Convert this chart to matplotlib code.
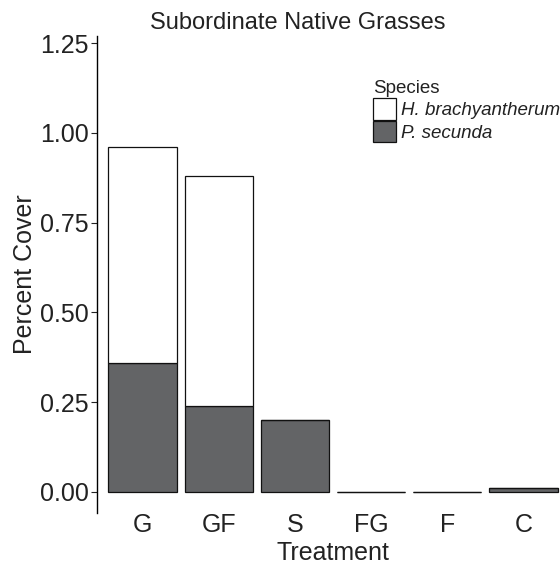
import matplotlib.pyplot as plt
from matplotlib.patches import Patch

treatments = ["G", "GF", "S", "FG", "F", "C"]
p_secunda = [0.36, 0.24, 0.20, 0.0, 0.0, 0.012]
h_brachy = [0.60, 0.64, 0.0, 0.0, 0.0, 0.0]
yticks = [0.00, 0.25, 0.50, 0.75, 1.00, 1.25]

plt.rcParams["font.family"] = ["Liberation Sans", "DejaVu Sans"]

dark = "#636466"
txt = "#222222"

fig = plt.figure(figsize=(5.6, 5.68), dpi=100)
# axes spans x 97..569 px, y 36..513 px
ax = fig.add_axes([97 / 560, 1 - 513 / 568, 472 / 560, 477 / 568])

x = range(len(treatments))
ax.bar(x, p_secunda, width=0.9, color=dark, edgecolor="#111111", linewidth=0.9)
ax.bar(x, h_brachy, width=0.9, bottom=p_secunda, color="white",
       edgecolor="#111111", linewidth=0.9)

ax.set_xlim(-0.6, 5.6)
ax.set_ylim(-0.059, 1.27)
ax.set_xticks(list(x))
ax.set_xticklabels(treatments)
ax.set_yticks(yticks)
ax.set_yticklabels([f"{v:.2f}" for v in yticks])

for side in ["top", "right", "bottom"]:
    ax.spines[side].set_visible(False)
ax.spines["left"].set_linewidth(1.0)
ax.tick_params(axis="y", length=4, width=0.8, labelsize=18, colors=txt, pad=2)
ax.tick_params(axis="x", length=0, labelsize=18, colors=txt, pad=0)
for lbl in ax.get_yticklabels() + ax.get_xticklabels():
    lbl.set_color(txt)

ax.set_xlabel("Treatment", fontsize=18, color=txt, labelpad=3)
ax.set_ylabel("Percent Cover", fontsize=18, color=txt, labelpad=2)
fig.text(298 / 560, 1 - 23 / 568, "Subordinate Native Grasses", ha="center",
         va="center", fontsize=17, color=txt)

handles = [Patch(facecolor="white", edgecolor="#111111", linewidth=0.9),
           Patch(facecolor=dark, edgecolor="#111111", linewidth=0.9)]
leg = fig.legend(handles, ["H. brachyantherum", "P. secunda"], title="Species",
                 loc="upper left", bbox_to_anchor=(373 / 560, 1 - 80 / 568),
                 frameon=False, fontsize=13.5, title_fontsize=13.5,
                 handlelength=1.25, handleheight=1.4, handletextpad=0.25,
                 labelspacing=0.05, borderaxespad=0, borderpad=0)
leg._legend_box.align = "left"
for t in leg.get_texts():
    t.set_fontstyle("italic")
    t.set_color(txt)
leg.get_title().set_color(txt)

fig.savefig("out.png", dpi=100)
